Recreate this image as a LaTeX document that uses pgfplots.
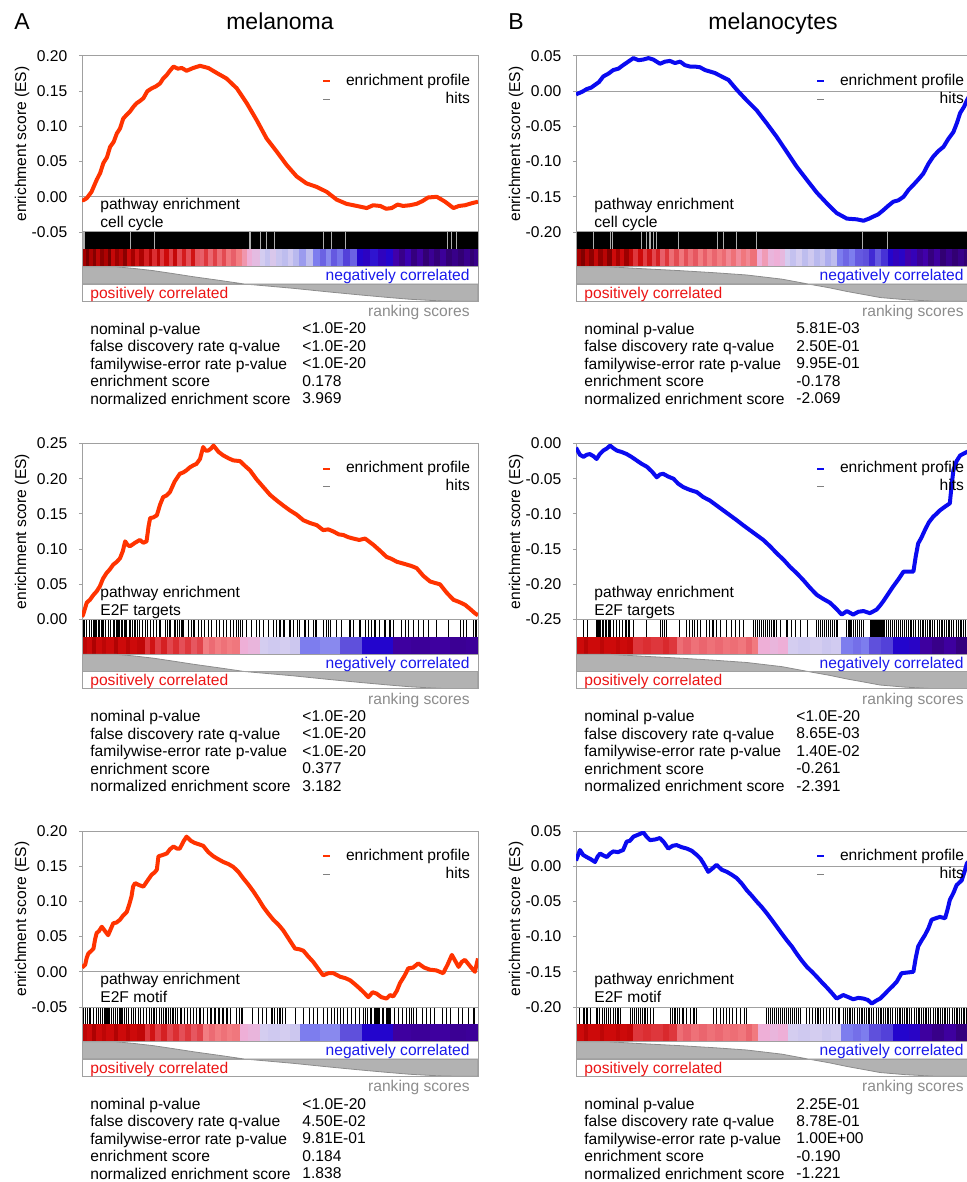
\documentclass[border=0pt]{standalone}
\usepackage{fontspec}
\setmainfont{Liberation Sans}
\usepackage{pgfplots}
\usepackage{pgfplotstable}
\pgfplotsset{compat=1.18}

\newcommand\fs{\fontsize{7.8}{9.4}\selectfont}
\newcommand\fsst{\fontsize{7.8}{8.7}\selectfont}
\definecolor{esred}{RGB}{255,51,0}
\definecolor{esblue}{RGB}{10,10,240}
\definecolor{frame}{RGB}{160,160,160}
\definecolor{rankfill}{RGB}{178,178,178}
\definecolor{rankline}{RGB}{140,140,140}
\definecolor{posred}{RGB}{235,20,20}
\definecolor{negblue}{RGB}{25,25,235}
\definecolor{rsgray}{RGB}{140,140,140}
\definecolor{hitgray}{RGB}{175,175,175}

\pgfdeclareplotmark{cell}{\pgfpathrectangle{\pgfqpoint{0pt}{-4.34pt}}{\pgfqpoint{12pt}{8.68pt}}\pgfusepathqfill}

\pgfplotsset{
 colormap={gsea}{rgb255=(120,0,0) rgb255=(165,0,0) rgb255=(205,10,10) rgb255=(222,55,60) rgb255=(232,95,105) rgb255=(242,125,130) rgb255=(238,175,215) rgb255=(212,205,240) rgb255=(185,185,238) rgb255=(125,125,238) rgb255=(95,80,220) rgb255=(35,5,205) rgb255=(65,0,170) rgb255=(50,0,115)},
 esaxis/.style={anchor=north west, scale only axis, width=198pt, height=88pt,
   xmin=0, xmax=1, xtick=\empty, scaled y ticks=false,
   axis line style={frame, line width=0.5pt}, tick style={frame, line width=0.5pt},
   major tick length=1.6pt, tick align=outside, ytick pos=left,
   yticklabel style={font=\fs, inner sep=0pt, xshift=-5.6pt,
     /pgf/number format/fixed, /pgf/number format/fixed zerofill,
     /pgf/number format/precision=2, /pgf/number format/assume math mode=true},
   /pgf/number format/assume math mode=true,
   legend image code/.code={\draw[##1] (0pt,0pt) -- (3.3pt,0pt);},
   legend cell align=right,
   legend style={draw=none, fill=none, inner sep=0pt, outer sep=0pt, at={(1,1)},
     anchor=north east, xshift=-4pt, yshift=-8.85pt, font=\fs, row sep=1.7pt,
     /tikz/every odd column/.append style={column sep=7.5pt},
     nodes={inner sep=0pt, text height=5.8pt, text depth=1.5pt}}},
 stripaxis/.style={anchor=north west, scale only axis, width=198pt, height=34.67pt,
   xmin=0, xmax=1, ymin=-1, ymax=3, xtick=\empty, ytick=\empty,
   axis line style={frame, line width=0.5pt}, axis on top, clip marker paths=true,
   colormap name=gsea, point meta min=0, point meta max=13}
}
\tikzset{t/.style={font=\fs, inner sep=0pt, text height=5.6pt, text depth=0pt}}

% ---------------- enrichment profiles ----------------
\pgfplotstableread{
x y
0.000 -0.004
0.003 -0.005
0.012 -0.002
0.024 0.007
0.037 0.024
0.046 0.034
0.054 0.048
0.063 0.056
0.071 0.071
0.080 0.078
0.088 0.090
0.096 0.097
0.104 0.111
0.112 0.116
0.121 0.121
0.130 0.128
0.138 0.133
0.146 0.136
0.155 0.140
0.165 0.150
0.176 0.154
0.187 0.157
0.197 0.161
0.205 0.168
0.214 0.173
0.222 0.179
0.231 0.185
0.242 0.182
0.252 0.183
0.264 0.179
0.281 0.183
0.298 0.186
0.319 0.183
0.340 0.176
0.365 0.168
0.391 0.154
0.416 0.133
0.441 0.109
0.466 0.083
0.492 0.064
0.517 0.045
0.542 0.029
0.567 0.019
0.593 0.014
0.618 0.007
0.643 -0.004
0.668 -0.010
0.694 -0.013
0.719 -0.016
0.735 -0.012
0.753 -0.013
0.768 -0.017
0.782 -0.016
0.797 -0.011
0.811 -0.013
0.828 -0.012
0.845 -0.010
0.860 -0.006
0.874 -0.001
0.896 0.000
0.917 -0.007
0.938 -0.016
0.952 -0.013
0.967 -0.012
0.985 -0.009
1.000 -0.007
}\esAone
\pgfplotstableread{
x y
0.000 -0.005
0.002 -0.004
0.015 -0.001
0.027 0.003
0.038 0.005
0.048 0.009
0.058 0.013
0.069 0.021
0.082 0.025
0.094 0.030
0.107 0.032
0.119 0.037
0.132 0.042
0.145 0.047
0.158 0.044
0.170 0.045
0.183 0.047
0.195 0.045
0.212 0.039
0.225 0.042
0.237 0.043
0.250 0.040
0.263 0.042
0.275 0.037
0.288 0.035
0.300 0.035
0.313 0.034
0.326 0.030
0.338 0.028
0.350 0.026
0.364 0.022
0.385 0.016
0.406 0.002
0.431 -0.013
0.456 -0.027
0.482 -0.046
0.507 -0.065
0.532 -0.086
0.557 -0.107
0.583 -0.126
0.608 -0.144
0.633 -0.159
0.658 -0.173
0.684 -0.181
0.709 -0.182
0.726 -0.184
0.740 -0.181
0.751 -0.178
0.763 -0.175
0.776 -0.169
0.788 -0.163
0.801 -0.157
0.814 -0.155
0.827 -0.150
0.840 -0.140
0.852 -0.133
0.865 -0.125
0.877 -0.117
0.890 -0.103
0.902 -0.093
0.915 -0.085
0.928 -0.079
0.940 -0.068
0.953 -0.058
0.962 -0.045
0.970 -0.031
0.980 -0.022
0.987 -0.013
1.000 0.000
}\esBone
\pgfplotstableread{
x y
0.000 0.004
0.003 0.007
0.012 0.024
0.020 0.028
0.029 0.035
0.037 0.040
0.045 0.047
0.053 0.058
0.062 0.066
0.070 0.071
0.079 0.078
0.088 0.082
0.096 0.087
0.103 0.097
0.109 0.111
0.115 0.106
0.121 0.104
0.134 0.109
0.146 0.113
0.155 0.109
0.163 0.111
0.168 0.132
0.172 0.144
0.180 0.145
0.189 0.148
0.197 0.163
0.205 0.174
0.213 0.176
0.222 0.181
0.234 0.196
0.247 0.207
0.256 0.209
0.264 0.212
0.272 0.216
0.281 0.219
0.289 0.221
0.298 0.228
0.306 0.245
0.312 0.240
0.319 0.240
0.326 0.243
0.332 0.247
0.345 0.238
0.357 0.233
0.370 0.229
0.382 0.226
0.399 0.225
0.412 0.218
0.424 0.212
0.441 0.199
0.458 0.188
0.475 0.177
0.492 0.169
0.508 0.162
0.525 0.155
0.542 0.149
0.559 0.141
0.576 0.137
0.593 0.134
0.609 0.127
0.622 0.128
0.635 0.125
0.648 0.121
0.660 0.120
0.672 0.117
0.685 0.115
0.700 0.113
0.715 0.115
0.736 0.106
0.752 0.098
0.769 0.089
0.782 0.086
0.795 0.082
0.808 0.080
0.820 0.078
0.832 0.076
0.845 0.073
0.862 0.062
0.879 0.054
0.891 0.052
0.904 0.050
0.921 0.038
0.938 0.028
0.952 0.025
0.967 0.021
0.980 0.015
0.992 0.009
1.000 0.006
}\esAtwo
\pgfplotstableread{
x y
0.000 -0.006
0.002 -0.008
0.010 -0.016
0.019 -0.019
0.027 -0.016
0.035 -0.015
0.044 -0.018
0.052 -0.022
0.060 -0.015
0.069 -0.010
0.078 -0.007
0.086 -0.003
0.095 -0.007
0.103 -0.010
0.115 -0.012
0.128 -0.015
0.140 -0.019
0.153 -0.024
0.166 -0.029
0.179 -0.033
0.192 -0.040
0.204 -0.048
0.212 -0.044
0.220 -0.043
0.233 -0.047
0.246 -0.050
0.258 -0.057
0.271 -0.062
0.288 -0.066
0.305 -0.069
0.321 -0.076
0.338 -0.081
0.355 -0.088
0.372 -0.095
0.389 -0.102
0.406 -0.109
0.422 -0.116
0.439 -0.123
0.456 -0.130
0.473 -0.137
0.490 -0.146
0.507 -0.156
0.524 -0.165
0.540 -0.175
0.557 -0.184
0.574 -0.194
0.591 -0.205
0.608 -0.215
0.625 -0.221
0.641 -0.226
0.656 -0.234
0.671 -0.243
0.684 -0.238
0.700 -0.243
0.713 -0.239
0.726 -0.238
0.742 -0.241
0.759 -0.236
0.768 -0.230
0.776 -0.224
0.789 -0.213
0.801 -0.203
0.814 -0.193
0.827 -0.182
0.840 -0.182
0.852 -0.182
0.858 -0.160
0.864 -0.142
0.872 -0.134
0.881 -0.123
0.891 -0.112
0.902 -0.104
0.910 -0.100
0.919 -0.095
0.931 -0.090
0.944 -0.085
0.948 -0.062
0.953 -0.038
0.961 -0.025
0.970 -0.017
0.987 -0.012
1.000 -0.010
}\esBtwo
\pgfplotstableread{
x y
0.000 0.006
0.008 0.010
0.012 0.020
0.016 0.026
0.022 0.029
0.029 0.033
0.033 0.046
0.037 0.055
0.043 0.058
0.050 0.064
0.058 0.058
0.066 0.052
0.072 0.060
0.079 0.069
0.087 0.070
0.096 0.074
0.104 0.080
0.113 0.085
0.119 0.095
0.125 0.107
0.129 0.121
0.134 0.126
0.145 0.123
0.155 0.121
0.166 0.130
0.176 0.138
0.183 0.141
0.189 0.145
0.193 0.164
0.204 0.166
0.214 0.168
0.222 0.174
0.231 0.178
0.240 0.175
0.247 0.175
0.256 0.185
0.264 0.192
0.275 0.186
0.285 0.183
0.296 0.181
0.306 0.179
0.319 0.170
0.332 0.164
0.344 0.160
0.357 0.156
0.370 0.153
0.382 0.149
0.395 0.142
0.407 0.133
0.420 0.124
0.433 0.114
0.446 0.103
0.458 0.092
0.470 0.083
0.483 0.074
0.496 0.067
0.508 0.059
0.523 0.046
0.538 0.033
0.549 0.032
0.559 0.030
0.571 0.022
0.584 0.014
0.597 0.004
0.609 -0.005
0.622 -0.002
0.635 -0.002
0.652 -0.007
0.665 -0.009
0.677 -0.012
0.690 -0.018
0.702 -0.024
0.713 -0.030
0.723 -0.036
0.734 -0.029
0.744 -0.031
0.756 -0.036
0.769 -0.038
0.778 -0.033
0.786 -0.035
0.795 -0.027
0.803 -0.016
0.814 -0.006
0.824 0.005
0.836 0.006
0.849 0.012
0.864 0.006
0.879 0.003
0.895 0.002
0.912 -0.002
0.923 0.010
0.934 0.024
0.942 0.016
0.951 0.007
0.959 0.014
0.967 0.017
0.980 0.008
0.992 0.000
1.000 0.019
}\esAthree
\pgfplotstableread{
x y
0.000 0.008
0.002 0.011
0.010 0.023
0.018 0.016
0.027 0.013
0.037 0.010
0.048 0.006
0.055 0.014
0.061 0.018
0.070 0.015
0.078 0.013
0.086 0.018
0.094 0.021
0.106 0.020
0.119 0.023
0.128 0.035
0.136 0.036
0.145 0.042
0.158 0.045
0.170 0.048
0.178 0.042
0.187 0.037
0.200 0.038
0.212 0.040
0.222 0.034
0.233 0.025
0.244 0.029
0.254 0.030
0.267 0.027
0.280 0.025
0.292 0.022
0.305 0.016
0.314 0.011
0.322 0.004
0.334 -0.008
0.345 -0.003
0.355 0.002
0.368 -0.005
0.381 -0.008
0.393 -0.012
0.406 -0.017
0.419 -0.025
0.431 -0.034
0.444 -0.042
0.456 -0.050
0.469 -0.058
0.482 -0.067
0.494 -0.076
0.507 -0.086
0.520 -0.096
0.532 -0.105
0.545 -0.114
0.557 -0.124
0.570 -0.134
0.583 -0.143
0.596 -0.150
0.608 -0.157
0.621 -0.165
0.633 -0.172
0.646 -0.180
0.658 -0.188
0.675 -0.183
0.688 -0.186
0.700 -0.189
0.713 -0.187
0.726 -0.188
0.737 -0.190
0.747 -0.195
0.758 -0.191
0.768 -0.188
0.779 -0.182
0.789 -0.176
0.800 -0.170
0.810 -0.164
0.816 -0.158
0.822 -0.152
0.837 -0.151
0.852 -0.150
0.858 -0.130
0.864 -0.114
0.872 -0.106
0.881 -0.098
0.890 -0.088
0.898 -0.076
0.908 -0.074
0.919 -0.072
0.932 -0.074
0.938 -0.062
0.944 -0.048
0.953 -0.038
0.961 -0.027
0.974 -0.020
0.981 -0.008
0.987 0.004
1.000 0.012
}\esBthree

% ---------------- colour bars (ranked list colouring) ----------------
\pgfplotstableread[row sep=\\]{
x c\\ 0.000 1\\ 0.010 0\\ 0.018 1.2\\ 0.028 0.3\\ 0.036 1.6\\ 0.046 0.5\\ 0.055 1.2\\ 0.065 0\\ 0.074 1.8\\ 0.084 0.8\\
0.094 1.5\\ 0.104 0.4\\ 0.113 2\\ 0.123 1\\ 0.133 2.2\\ 0.145 1.2\\ 0.156 2.5\\ 0.168 1.4\\ 0.178 2.8\\ 0.189 1.6\\
0.197 3\\ 0.208 2\\ 0.219 3.2\\ 0.230 1.8\\ 0.241 3.5\\ 0.252 2.4\\ 0.263 3.6\\ 0.275 2.2\\ 0.286 3.8\\ 0.298 4\\
0.308 3\\ 0.318 4.3\\ 0.330 3.2\\ 0.342 4.5\\ 0.353 3.5\\ 0.364 4.8\\ 0.376 4\\ 0.390 5\\ 0.403 5.5\\ 0.416 6\\
0.430 6.4\\ 0.449 7\\ 0.462 7.5\\ 0.476 6.8\\ 0.490 7.4\\ 0.505 7.8\\ 0.520 7.2\\ 0.534 8\\ 0.549 8.5\\ 0.565 7.8\\
0.584 9\\ 0.600 9.6\\ 0.615 8.8\\ 0.630 9.8\\ 0.645 9.2\\ 0.660 10.2\\ 0.676 9.6\\ 0.694 11\\ 0.710 11.3\\ 0.728 10.8\\
0.748 11.4\\ 0.768 11\\ 0.786 12\\ 0.800 12.6\\ 0.815 11.8\\ 0.830 12.8\\ 0.845 12.2\\ 0.860 13\\ 0.875 12.4\\ 0.890 12.9\\
0.905 12.3\\ 0.920 13\\ 0.935 12.6\\ 0.950 13\\ 0.965 12.5\\ 0.980 13\\ 0.990 12.6\\
}\cAone
\pgfplotstableread[row sep=\\]{
x c\\ 0.000 1.6\\ 0.012 2\\ 0.025 1.2\\ 0.035 2\\ 0.050 1.6\\ 0.060 2\\ 0.080 1.3\\ 0.090 2\\ 0.110 1.5\\ 0.120 2\\
0.140 1.7\\ 0.159 3\\ 0.172 2.2\\ 0.185 3.2\\ 0.200 2.5\\ 0.215 3.4\\ 0.230 2.8\\ 0.245 3.6\\ 0.260 3\\ 0.275 3.8\\
0.290 3.3\\ 0.306 5\\ 0.320 4.4\\ 0.335 5\\ 0.350 4.6\\ 0.365 5\\ 0.380 4.8\\ 0.399 6\\ 0.420 6.2\\ 0.449 7\\
0.470 7.2\\ 0.500 7\\ 0.525 7.3\\ 0.550 9\\ 0.600 8.8\\ 0.651 10\\ 0.680 10\\ 0.706 11\\ 0.750 11\\ 0.786 12.2\\
0.830 12.3\\ 0.880 12.2\\ 0.930 12.4\\ 0.970 12.3\\
}\cAtwo
\pgfplotstableread[row sep=\\]{
x c\\ 0.000 1\\ 0.012 0.2\\ 0.022 1.4\\ 0.034 0.5\\ 0.045 1.8\\ 0.056 0.6\\ 0.068 1.5\\ 0.078 0.3\\ 0.090 2\\ 0.100 1\\
0.112 2\\ 0.122 0.8\\ 0.134 1.8\\ 0.145 3\\ 0.157 2\\ 0.168 3.2\\ 0.180 2.2\\ 0.192 3.4\\ 0.203 2.5\\ 0.212 4\\
0.224 3\\ 0.236 4.5\\ 0.248 3.5\\ 0.260 4.8\\ 0.272 3.6\\ 0.284 4.6\\ 0.296 3.8\\ 0.308 5\\ 0.320 4\\ 0.332 5\\
0.344 4.2\\ 0.356 5\\ 0.368 4.4\\ 0.380 5.2\\ 0.392 4.6\\ 0.404 5.3\\ 0.416 4.8\\ 0.428 5.2\\ 0.440 4.6\\ 0.456 6\\
0.470 5.6\\ 0.485 6.2\\ 0.500 6\\ 0.515 6.3\\ 0.527 7\\ 0.540 7.6\\ 0.555 7\\ 0.570 7.8\\ 0.585 7.2\\ 0.600 8\\
0.615 7.5\\ 0.630 8.2\\ 0.645 7.8\\ 0.658 9\\ 0.675 9.5\\ 0.690 9\\ 0.705 9.8\\ 0.725 10\\ 0.740 10.5\\ 0.755 9.8\\
0.770 10.4\\ 0.788 11\\ 0.800 11.5\\ 0.815 11.2\\ 0.830 12\\ 0.845 11.6\\ 0.860 12.4\\ 0.875 12\\ 0.890 12.8\\ 0.905 12.2\\
0.920 13\\ 0.935 12.5\\ 0.950 13\\ 0.965 12.6\\ 0.980 13\\
}\cBone
\pgfplotstableread[row sep=\\]{
x c\\ 0.000 2\\ 0.020 1.5\\ 0.030 2\\ 0.060 1.6\\ 0.070 2\\ 0.100 1.7\\ 0.110 2\\ 0.130 1.8\\ 0.145 3\\ 0.170 2.8\\
0.190 3\\ 0.220 2.7\\ 0.235 3\\ 0.254 4.5\\ 0.270 4\\ 0.290 4.6\\ 0.310 4.2\\ 0.330 4.6\\ 0.350 4.3\\ 0.370 4.7\\
0.390 4.5\\ 0.410 4.8\\ 0.430 4.2\\ 0.445 4.9\\ 0.460 6\\ 0.490 6.2\\ 0.510 6\\ 0.535 7\\ 0.560 7.2\\ 0.590 7\\
0.620 7.3\\ 0.645 7.1\\ 0.670 9\\ 0.700 9.3\\ 0.720 9\\ 0.741 10\\ 0.770 10.2\\ 0.800 11\\ 0.840 11.2\\ 0.868 12.2\\
0.900 12.6\\ 0.930 12.2\\ 0.960 12.8\\ 0.990 12.4\\
}\cBtwo

% ---------------- hits ----------------
\pgfplotstableread[row sep=\\]{
x\\ 0.005\\ 0.123\\ 0.184\\ 0.424\\ 0.450\\ 0.466\\ 0.486\\ 0.609\\ 0.630\\ 0.665\\ 0.922\\ 0.934\\ 0.945\\
}\hAone
\pgfplotstableread[row sep=\\]{
x\\ 0.044\\ 0.088\\ 0.093\\ 0.166\\ 0.178\\ 0.187\\ 0.195\\ 0.204\\ 0.258\\ 0.357\\ 0.372\\ 0.406\\ 0.455\\ 0.723\\ 0.786\\
}\hBone
\pgfplotstableread[row sep=\\]{
x\\ 0.005\\ 0.012\\ 0.018\\ 0.024\\ 0.029\\ 0.033\\ 0.037\\ 0.041\\ 0.045\\ 0.049\\ 0.053\\ 0.060\\ 0.066\\ 0.072\\
0.079\\ 0.083\\ 0.087\\ 0.091\\ 0.095\\ 0.099\\ 0.103\\ 0.107\\ 0.111\\ 0.121\\ 0.128\\ 0.134\\ 0.140\\ 0.146\\
0.153\\ 0.160\\ 0.165\\ 0.172\\ 0.180\\ 0.188\\ 0.197\\ 0.210\\ 0.215\\ 0.222\\ 0.235\\ 0.241\\ 0.247\\ 0.251\\
0.255\\ 0.268\\ 0.277\\ 0.281\\ 0.285\\ 0.294\\ 0.302\\ 0.310\\ 0.319\\ 0.327\\ 0.340\\ 0.348\\ 0.357\\ 0.365\\
0.374\\ 0.382\\ 0.390\\ 0.395\\ 0.400\\ 0.405\\ 0.416\\ 0.428\\ 0.441\\ 0.449\\ 0.458\\ 0.470\\ 0.483\\ 0.492\\
0.500\\ 0.510\\ 0.525\\ 0.534\\ 0.544\\ 0.550\\ 0.563\\ 0.571\\ 0.584\\ 0.591\\ 0.609\\ 0.618\\ 0.622\\ 0.628\\
0.643\\ 0.656\\ 0.677\\ 0.685\\ 0.702\\ 0.715\\ 0.723\\ 0.731\\ 0.740\\ 0.752\\ 0.765\\ 0.778\\ 0.786\\ 0.807\\
0.816\\ 0.824\\ 0.837\\ 0.849\\ 0.862\\ 0.875\\ 0.896\\ 0.925\\ 0.955\\ 0.963\\ 0.971\\ 0.988\\ 0.995\\
}\hAtwo
\pgfplotstableread[row sep=\\]{
x\\ 0.019\\ 0.030\\ 0.053\\ 0.058\\ 0.062\\ 0.066\\ 0.070\\ 0.074\\ 0.078\\ 0.082\\ 0.086\\ 0.095\\ 0.102\\ 0.110\\
0.118\\ 0.126\\ 0.134\\ 0.145\\ 0.179\\ 0.213\\ 0.218\\ 0.224\\ 0.229\\ 0.262\\ 0.280\\ 0.287\\ 0.294\\ 0.300\\
0.307\\ 0.314\\ 0.330\\ 0.338\\ 0.346\\ 0.355\\ 0.364\\ 0.381\\ 0.392\\ 0.402\\ 0.412\\ 0.423\\ 0.448\\ 0.453\\
0.458\\ 0.463\\ 0.468\\ 0.473\\ 0.478\\ 0.483\\ 0.488\\ 0.494\\ 0.500\\ 0.506\\ 0.516\\ 0.533\\ 0.544\\ 0.555\\
0.566\\ 0.585\\ 0.608\\ 0.613\\ 0.618\\ 0.623\\ 0.628\\ 0.633\\ 0.638\\ 0.643\\ 0.648\\ 0.653\\ 0.659\\ 0.684\\
0.688\\ 0.692\\ 0.696\\ 0.700\\ 0.705\\ 0.710\\ 0.715\\ 0.720\\ 0.726\\ 0.745\\ 0.750\\ 0.755\\ 0.760\\ 0.765\\
0.770\\ 0.775\\ 0.780\\ 0.785\\ 0.790\\ 0.795\\ 0.800\\ 0.805\\ 0.810\\ 0.815\\ 0.820\\ 0.825\\ 0.830\\ 0.835\\
0.840\\ 0.846\\ 0.852\\ 0.858\\ 0.864\\ 0.870\\ 0.876\\ 0.882\\ 0.888\\ 0.894\\ 0.900\\ 0.906\\ 0.912\\ 0.918\\
0.924\\ 0.930\\ 0.936\\ 0.942\\ 0.948\\ 0.954\\ 0.960\\ 0.966\\ 0.972\\ 0.978\\ 0.984\\ 0.990\\ 0.996\\
}\hBtwo
\pgfplotstableread[row sep=\\]{
x\\ 0.003\\ 0.008\\ 0.013\\ 0.020\\ 0.030\\ 0.036\\ 0.042\\ 0.047\\ 0.052\\ 0.058\\ 0.063\\ 0.068\\ 0.074\\ 0.079\\
0.085\\ 0.090\\ 0.096\\ 0.101\\ 0.107\\ 0.112\\ 0.118\\ 0.124\\ 0.130\\ 0.136\\ 0.142\\ 0.148\\ 0.156\\ 0.163\\
0.170\\ 0.176\\ 0.182\\ 0.188\\ 0.195\\ 0.200\\ 0.206\\ 0.212\\ 0.218\\ 0.224\\ 0.230\\ 0.236\\ 0.242\\ 0.250\\
0.258\\ 0.266\\ 0.274\\ 0.282\\ 0.290\\ 0.298\\ 0.306\\ 0.316\\ 0.326\\ 0.336\\ 0.346\\ 0.356\\ 0.366\\ 0.376\\
0.390\\ 0.397\\ 0.404\\ 0.430\\ 0.445\\ 0.455\\ 0.465\\ 0.480\\ 0.487\\ 0.494\\ 0.500\\ 0.507\\ 0.514\\ 0.540\\
0.560\\ 0.575\\ 0.585\\ 0.595\\ 0.610\\ 0.620\\ 0.630\\ 0.638\\ 0.645\\ 0.652\\ 0.660\\ 0.670\\ 0.680\\ 0.690\\
0.700\\ 0.710\\ 0.715\\ 0.720\\ 0.730\\ 0.740\\ 0.745\\ 0.750\\ 0.760\\ 0.770\\ 0.775\\ 0.780\\ 0.790\\ 0.800\\
0.810\\ 0.820\\ 0.826\\ 0.832\\ 0.838\\ 0.845\\ 0.860\\ 0.870\\ 0.880\\ 0.890\\ 0.910\\ 0.920\\ 0.930\\ 0.950\\
0.960\\ 0.975\\ 0.990\\
}\hAthree
\pgfplotstableread[row sep=\\]{
x\\ 0.002\\ 0.008\\ 0.020\\ 0.028\\ 0.036\\ 0.053\\ 0.060\\ 0.067\\ 0.072\\ 0.077\\ 0.082\\ 0.088\\ 0.095\\ 0.100\\
0.106\\ 0.112\\ 0.137\\ 0.142\\ 0.147\\ 0.152\\ 0.157\\ 0.162\\ 0.168\\ 0.174\\ 0.180\\ 0.188\\ 0.196\\ 0.238\\
0.244\\ 0.250\\ 0.256\\ 0.262\\ 0.270\\ 0.280\\ 0.290\\ 0.298\\ 0.305\\ 0.347\\ 0.355\\ 0.365\\ 0.372\\ 0.380\\
0.388\\ 0.395\\ 0.405\\ 0.415\\ 0.425\\ 0.431\\ 0.482\\ 0.487\\ 0.492\\ 0.497\\ 0.502\\ 0.507\\ 0.512\\ 0.517\\
0.522\\ 0.527\\ 0.532\\ 0.537\\ 0.542\\ 0.547\\ 0.552\\ 0.557\\ 0.562\\ 0.566\\ 0.583\\ 0.590\\ 0.597\\ 0.604\\
0.611\\ 0.618\\ 0.625\\ 0.632\\ 0.640\\ 0.648\\ 0.656\\ 0.664\\ 0.675\\ 0.680\\ 0.686\\ 0.692\\ 0.698\\ 0.704\\
0.710\\ 0.716\\ 0.722\\ 0.728\\ 0.734\\ 0.740\\ 0.746\\ 0.752\\ 0.758\\ 0.764\\ 0.770\\ 0.776\\ 0.782\\ 0.788\\
0.794\\ 0.800\\ 0.806\\ 0.812\\ 0.818\\ 0.824\\ 0.830\\ 0.836\\ 0.842\\ 0.848\\ 0.854\\ 0.860\\ 0.866\\ 0.872\\
0.878\\ 0.884\\ 0.890\\ 0.896\\ 0.902\\ 0.908\\ 0.914\\ 0.920\\ 0.926\\ 0.932\\ 0.938\\ 0.944\\ 0.950\\ 0.956\\
0.962\\ 0.968\\ 0.974\\ 0.980\\ 0.986\\ 0.992\\ 0.998\\
}\hBthree

% ---------------- ranking scores (scaled, clipped to +-1) ----------------
\pgfplotstableread[row sep=\\]{
x r\\ 0 1\\ 0.083 1\\ 0.13 0.9\\ 0.18 0.77\\ 0.23 0.6\\ 0.281 0.42\\ 0.35 0.2\\ 0.41 0\\ 0.47 -0.12\\
0.534 -0.25\\ 0.62 -0.45\\ 0.702 -0.63\\ 0.77 -0.77\\ 0.828 -0.88\\ 0.875 -0.94\\ 0.912 -0.98\\ 0.96 -1\\ 1 -1\\
}\rankA
\pgfplotstableread[row sep=\\]{
x r\\ 0 1\\ 0.078 1\\ 0.17 0.88\\ 0.263 0.77\\ 0.35 0.65\\ 0.431 0.52\\ 0.52 0.28\\ 0.586 0\\ 0.64 -0.22\\
0.684 -0.43\\ 0.73 -0.62\\ 0.768 -0.78\\ 0.83 -0.9\\ 0.91 -1\\ 1 -1\\
}\rankB

% #1 x, #2 y, #3 colour table, #4 hits table, #5 hits colour, #6 rank table, #7 extra
\newcommand\strip[7]{%
\begin{axis}[stripaxis, at={(#1,#2)}]
#7
\addplot[scatter, only marks, mark=cell, point meta=explicit,
  scatter/use mapped color={draw=mapped color, fill=mapped color}]
  table[x=x, y expr=1.5, meta=c] {#3};
\addplot[#5, only marks, mark=|, mark size=4.33pt, mark options={solid, line width=0.6pt}]
  table[x=x, y=x, y expr=2.5] {#4};
\addplot[fill=rankfill, draw=rankline, line width=0.4pt] table[x=x, y=r] {#6} \closedcycle;
\addplot[frame, line width=0.5pt] coordinates {(0,0) (1,0)};
\addplot[frame, line width=0.5pt] coordinates {(0,1) (1,1)};
\end{axis}}

% #1 xL, #2 top, #3 set, #4-#8 values
\newcommand\ptext[8]{%
 \node[t, anchor=west] at (#1+9pt, #2-74pt) {pathway enrichment};
 \node[t, anchor=west] at (#1+9pt, #2-83pt) {#3};
 \node[t, anchor=east, text=negblue] at (#1+194pt, #2-109.65pt) {negatively correlated};
 \node[t, anchor=west, text=posred] at (#1+4pt, #2-118.4pt) {positively correlated};
 \node[t, anchor=east, text=rsgray] at (#1+194pt, #2-127.5pt) {ranking scores};
 \node[anchor=north west, inner sep=0pt, align=left, font=\fsst] at (#1+4pt, #2-133.35pt)
   {nominal p-value\\false discovery rate q-value\\familywise-error rate p-value\\enrichment score\\normalized enrichment score};
 \node[anchor=north west, inner sep=0pt, align=left, font=\fsst] at (#1+110pt, #2-133.35pt)
   {#4\\#5\\#6\\#7\\#8};
 \node[rotate=90, font=\fs, inner sep=0pt] at (#1-30pt, #2-44pt) {enrichment score (ES)};
}

% #1 curve colour
\newcommand\legendentries[1]{%
\addlegendimage{#1, line width=1pt}
\addlegendentry{enrichment profile}
\addlegendimage{gray, line width=0.45pt}
\addlegendentry{hits}}

\begin{document}
\begin{tikzpicture}
% titles
\node[font=\fontsize{11.5}{13}\selectfont, anchor=base, inner sep=0pt] at (11pt,-14.65pt) {A};
\node[font=\fontsize{11.5}{13}\selectfont, anchor=base, inner sep=0pt] at (140pt,-14.65pt) {melanoma};
\node[font=\fontsize{11.5}{13}\selectfont, anchor=base, inner sep=0pt] at (258pt,-14.65pt) {B};
\node[font=\fontsize{11.5}{13}\selectfont, anchor=base, inner sep=0pt] at (386.5pt,-14.65pt) {melanocytes};

% ===== row 1 =====
\begin{axis}[esaxis, at={(41pt,-28pt)}, ymin=-0.05, ymax=0.2, ytick={-0.05,0,0.05,0.1,0.15,0.2}]
\addplot[frame, line width=0.5pt, forget plot] coordinates {(0,0) (1,0)};
\addplot[esred, line width=2pt, line join=round, forget plot] table {\esAone};
\legendentries{esred}
\end{axis}
\strip{41pt}{-116pt}{\cAone}{\hAone}{hitgray}{\rankA}{\addplot[fill=black, draw=none] coordinates {(0,2) (1,2) (1,3) (0,3)} -- cycle;}
\ptext{41pt}{-28pt}{cell cycle}{<1.0E-20}{<1.0E-20}{<1.0E-20}{0.178}{3.969}

\begin{axis}[esaxis, at={(288pt,-28pt)}, ymin=-0.2, ymax=0.05, ytick={-0.2,-0.15,-0.1,-0.05,0,0.05}]
\addplot[frame, line width=0.5pt, forget plot] coordinates {(0,0) (1,0)};
\addplot[esblue, line width=2pt, line join=round, forget plot] table {\esBone};
\legendentries{esblue}
\end{axis}
\strip{288pt}{-116pt}{\cBone}{\hBone}{hitgray}{\rankB}{\addplot[fill=black, draw=none] coordinates {(0,2) (1,2) (1,3) (0,3)} -- cycle;}
\ptext{288pt}{-28pt}{cell cycle}{5.81E-03}{2.50E-01}{9.95E-01}{-0.178}{-2.069}

% ===== row 2 =====
\begin{axis}[esaxis, at={(41pt,-221.75pt)}, ymin=0, ymax=0.25, ytick={0,0.05,0.1,0.15,0.2,0.25}]
\addplot[frame, line width=0.5pt, forget plot] coordinates {(0,0) (1,0)};
\addplot[esred, line width=2pt, line join=round, forget plot] table {\esAtwo};
\legendentries{esred}
\end{axis}
\strip{41pt}{-309.75pt}{\cAtwo}{\hAtwo}{black}{\rankA}{}
\ptext{41pt}{-221.75pt}{E2F targets}{<1.0E-20}{<1.0E-20}{<1.0E-20}{0.377}{3.182}

\begin{axis}[esaxis, at={(288pt,-221.75pt)}, ymin=-0.25, ymax=0, ytick={-0.25,-0.2,-0.15,-0.1,-0.05,0}]
\addplot[frame, line width=0.5pt, forget plot] coordinates {(0,0) (1,0)};
\addplot[esblue, line width=2pt, line join=round, forget plot] table {\esBtwo};
\legendentries{esblue}
\end{axis}
\strip{288pt}{-309.75pt}{\cBtwo}{\hBtwo}{black}{\rankB}{}
\ptext{288pt}{-221.75pt}{E2F targets}{<1.0E-20}{8.65E-03}{1.40E-02}{-0.261}{-2.391}

% ===== row 3 =====
\begin{axis}[esaxis, at={(41pt,-415.5pt)}, ymin=-0.05, ymax=0.2, ytick={-0.05,0,0.05,0.1,0.15,0.2}]
\addplot[frame, line width=0.5pt, forget plot] coordinates {(0,0) (1,0)};
\addplot[esred, line width=2pt, line join=round, forget plot] table {\esAthree};
\legendentries{esred}
\end{axis}
\strip{41pt}{-503.5pt}{\cAtwo}{\hAthree}{black}{\rankA}{}
\ptext{41pt}{-415.5pt}{E2F motif}{<1.0E-20}{4.50E-02}{9.81E-01}{0.184}{1.838}

\begin{axis}[esaxis, at={(288pt,-415.5pt)}, ymin=-0.2, ymax=0.05, ytick={-0.2,-0.15,-0.1,-0.05,0,0.05}]
\addplot[frame, line width=0.5pt, forget plot] coordinates {(0,0) (1,0)};
\addplot[esblue, line width=2pt, line join=round, forget plot] table {\esBthree};
\legendentries{esblue}
\end{axis}
\strip{288pt}{-503.5pt}{\cBtwo}{\hBthree}{black}{\rankB}{}
\ptext{288pt}{-415.5pt}{E2F motif}{2.25E-01}{8.78E-01}{1.00E+00}{-0.190}{-1.221}

\pgfresetboundingbox
\useasboundingbox (0pt,0pt) rectangle (483.5pt,-591pt);
\end{tikzpicture}
\end{document}
